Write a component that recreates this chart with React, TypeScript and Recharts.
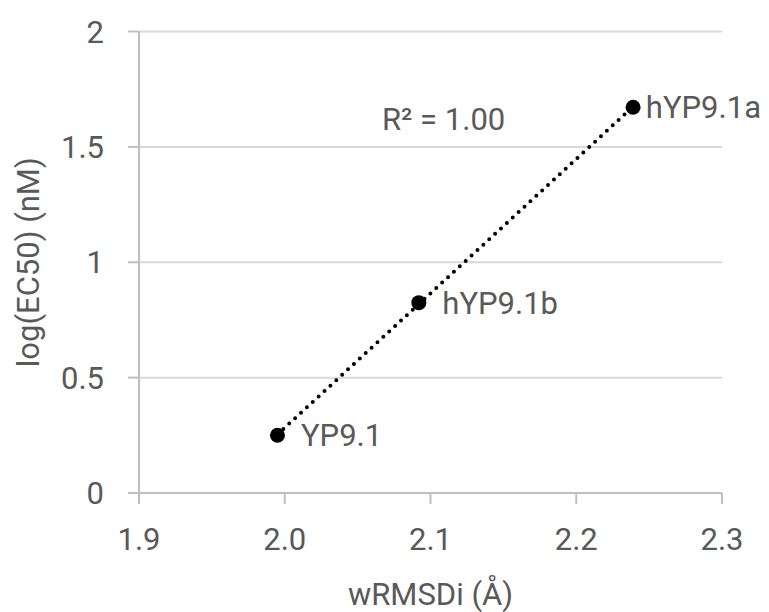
import React from "react";
import {
  ScatterChart,
  Scatter,
  XAxis,
  YAxis,
  CartesianGrid,
  ReferenceLine,
  ReferenceDot,
  LabelList,
  Label,
} from "recharts";

// ---- data ----
const pointNames = ["YP9.1", "hYP9.1b", "hYP9.1a"];
const wRMSDi = [1.995, 2.092, 2.239];
const logEC50 = [0.25, 0.825, 1.672];

const xTicks = [1.9, 2.0, 2.1, 2.2, 2.3];
const yTicks = [0, 0.5, 1, 1.5, 2];
const xTitle = "wRMSDi (Å)";
const yTitle = "log(EC50) (nM)";
const r2Text = "R² = 1.00";
const r2Anchor = { x: 2.109, y: 1.62 };

// ---- derived ----
const points = pointNames.map((name, i) => ({ name, x: wRMSDi[i], y: logEC50[i] }));

function linearFit(xs: number[], ys: number[]) {
  const n = xs.length;
  const mx = xs.reduce((a, b) => a + b, 0) / n;
  const my = ys.reduce((a, b) => a + b, 0) / n;
  let sxy = 0;
  let sxx = 0;
  for (let i = 0; i < n; i++) {
    sxy += (xs[i] - mx) * (ys[i] - my);
    sxx += (xs[i] - mx) * (xs[i] - mx);
  }
  const slope = sxy / sxx;
  const intercept = my - slope * mx;
  return { slope, intercept };
}
const fit = linearFit(wRMSDi, logEC50);
const xMin = Math.min(...wRMSDi);
const xMax = Math.max(...wRMSDi);
const trendSegment = [
  { x: xMin, y: fit.intercept + fit.slope * xMin },
  { x: xMax, y: fit.intercept + fit.slope * xMax },
];

const FONT = "Roboto, 'Noto Sans', sans-serif";
const TEXT = "#595959";
const GRID = "#d9d9d9";
const AXIS = "#bfbfbf";
const FS = 31;
const W = 761;
const H = 604;
const DOT_R = 7.5;
const LABEL_GAP = 16;
const RIGHT_LIMIT = W - 8;

function PointLabel(props: any) {
  const { x, y, width, height, value } = props;
  const cx = x + width / 2;
  const cy = y + height / 2;
  const label = String(value);
  const tx = cx + DOT_R + LABEL_GAP;
  const estWidth = label.length * FS * 0.56;
  const clamp = tx + estWidth > RIGHT_LIMIT;
  return (
    <text
      x={clamp ? RIGHT_LIMIT : tx}
      y={cy}
      dy="0.355em"
      fill={TEXT}
      fontSize={FS}
      fontFamily={FONT}
      textAnchor={clamp ? "end" : "start"}
    >
      {label}
    </text>
  );
}

export default function App() {
  return (
    <div style={{ width: W, height: H }}>
      <ScatterChart
        width={W}
        height={H}
        margin={{ top: 23.5, right: 47, left: 0, bottom: 0 }}
        style={{ fontFamily: FONT }}
      >
        <CartesianGrid vertical={false} stroke={GRID} strokeWidth={2} />
        <XAxis
          type="number"
          dataKey="x"
          domain={[1.9, 2.3]}
          ticks={xTicks}
          interval={0}
          tickFormatter={(v: number) => v.toFixed(1)}
          height={119}
          tickSize={11}
          tickMargin={24}
          axisLine={{ stroke: AXIS, strokeWidth: 2 }}
          tickLine={{ stroke: AXIS, strokeWidth: 2 }}
          tick={{ fill: TEXT, fontSize: FS, fontFamily: FONT }}
        >
          <Label
            value={xTitle}
            position="insideBottom"
            offset={7}
            fill={TEXT}
            fontSize={FS}
            fontFamily={FONT}
          />
        </XAxis>
        <YAxis
          type="number"
          dataKey="y"
          domain={[0, 2]}
          ticks={yTicks}
          interval={0}
          width={131}
          tickSize={11}
          tickMargin={24}
          axisLine={{ stroke: AXIS, strokeWidth: 2 }}
          tickLine={{ stroke: AXIS, strokeWidth: 2 }}
          tick={{ fill: TEXT, fontSize: FS, fontFamily: FONT }}
        >
          <Label
            value={yTitle}
            angle={-90}
            position="insideLeft"
            offset={20}
            fill={TEXT}
            fontSize={FS}
            fontFamily={FONT}
            style={{ textAnchor: "middle" }}
          />
        </YAxis>
        <ReferenceLine
          segment={trendSegment}
          stroke="#000"
          strokeWidth={4}
          strokeDasharray="0 8"
          strokeLinecap="round"
          ifOverflow="visible"
        />
        <Scatter
          data={points}
          fill="#000"
          isAnimationActive={false}
          shape={(p: any) => <circle cx={p.cx} cy={p.cy} r={DOT_R} fill="#000" />}
        >
          <LabelList dataKey="name" content={PointLabel} />
        </Scatter>
        <ReferenceDot
          x={r2Anchor.x}
          y={r2Anchor.y}
          r={0}
          fill="none"
          stroke="none"
          ifOverflow="visible"
        >
          <Label
            value={r2Text}
            position="center"
            fill={TEXT}
            fontSize={FS}
            fontFamily={FONT}
          />
        </ReferenceDot>
      </ScatterChart>
    </div>
  );
}
